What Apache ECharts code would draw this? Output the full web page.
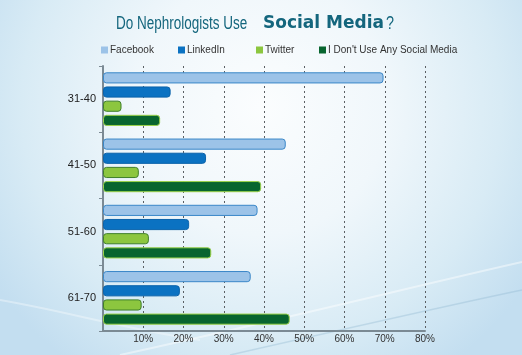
<!DOCTYPE html>
<html>
<head>
<meta charset="utf-8">
<script src="https://cdn.jsdelivr.net/npm/echarts@6/dist/echarts.min.js"></script>
<style>
html,body{margin:0;padding:0;}
#c{width:522px;height:355px;}
</style>
</head>
<body>
<div id="c"></div>
<script>
var categories = ['31-40', '41-50', '51-60', '61-70'];
var seriesNames = ['Facebook', 'LinkedIn', 'Twitter', "I Don't Use Any Social Media"];
var facebook = [69.7, 45.4, 38.4, 36.7];
var linkedin = [16.8, 25.6, 21.4, 19.1];
var twitter = [4.6, 8.9, 11.4, 9.6];
var noSocial = [14.2, 39.3, 26.9, 46.4];

var fills = ['#9cc3e8', '#0b72c2', '#8cc63f', '#08652f'];
var borders = ['#3a87c8', '#0a62aa', '#3f7f2a', '#9bd24a'];
var legendColors = ['#9cc3e8', '#0b72c2', '#8cc63f', '#08652f'];
var values = [facebook, linkedin, twitter, noSocial];
var SANS = '"Liberation Sans", Arial, sans-serif';
var TITLE_COLOR = '#14667d';

var chart = echarts.init(document.getElementById('c'), null, {renderer: 'canvas'});

var legendLefts = [96, 173, 251, 314];
var legends = seriesNames.map(function (n, i) {
  return {
    data: [{name: n, itemStyle: {color: legendColors[i], borderWidth: 0}}],
    left: legendLefts[i], top: 40,
    itemWidth: 7, itemHeight: 7, itemGap: 0,
    icon: 'rect',
    textStyle: {fontFamily: SANS, fontSize: 10, color: '#333', padding: [0, 0, 0, -3]},
    selectedMode: false
  };
});

var series = seriesNames.map(function (n, i) {
  return {
    name: n, type: 'bar', data: values[i],
    barCategoryGap: '19%', barGap: '27%',
    itemStyle: {color: fills[i], borderColor: borders[i], borderWidth: 1, borderRadius: 3},
    legendHoverLink: false
  };
});

chart.setOption({
  animation: false,
  backgroundColor: {
    type: 'radial', x: 0.5, y: 0.3, r: 0.9,
    colorStops: [
      {offset: 0, color: '#fbfdfe'},
      {offset: 0.4, color: '#f0f7fb'},
      {offset: 0.75, color: '#d8ebf5'},
      {offset: 1, color: '#c3def0'}
    ]
  },
  graphic: [
    {
      type: 'text', x: 116, y: 15, scaleX: 0.75,
      style: {text: 'Do Nephrologists Use', font: '18px ' + SANS, fill: TITLE_COLOR}
    },
    {
      type: 'text', x: 263, y: 15,
      style: {text: 'Social Media', font: 'bold 17px "DejaVu Sans", "Liberation Sans"', fill: TITLE_COLOR}
    },
    {
      type: 'text', x: 386, y: 15, scaleX: 0.8,
      style: {text: '?', font: '18px ' + SANS, fill: TITLE_COLOR}
    },
    {
      type: 'bezierCurve', silent: true, z: -1,
      shape: {x1: 120, y1: 355, x2: 522, y2: 262, cpx1: 280, cpy1: 320, cpx2: 420, cpy2: 285},
      style: {stroke: 'rgba(255,255,255,0.45)', lineWidth: 2, fill: null}
    },
    {
      type: 'bezierCurve', silent: true, z: -1,
      shape: {x1: 230, y1: 355, x2: 522, y2: 290, cpx1: 340, cpy1: 330, cpx2: 450, cpy2: 305},
      style: {stroke: 'rgba(140,180,205,0.35)', lineWidth: 1.5, fill: null}
    },
    {
      type: 'bezierCurve', silent: true, z: -1,
      shape: {x1: 0, y1: 300, x2: 200, y2: 340, cpx1: 60, cpy1: 310, cpx2: 130, cpy2: 330},
      style: {stroke: 'rgba(255,255,255,0.35)', lineWidth: 2, fill: null}
    }
  ],
  legend: legends,
  grid: {left: 103, right: 97, top: 66, bottom: 24, containLabel: false},
  xAxis: {
    type: 'value', min: 0, max: 80, interval: 10,
    axisLine: {show: true, lineStyle: {color: '#7b8a94', width: 2}},
    axisTick: {show: false},
    axisLabel: {
      fontFamily: SANS, fontSize: 10, color: '#333', margin: 3,
      formatter: function (v) { return v === 0 ? '' : v + '%'; }
    },
    splitLine: {show: true, lineStyle: {color: '#5a5f63', type: [2, 3], width: 1}}
  },
  yAxis: {
    type: 'category', data: categories, inverse: true,
    axisLine: {show: true, lineStyle: {color: '#7b8a94', width: 2}},
    axisTick: {show: true, length: 4, lineStyle: {color: '#7b8a94'}},
    axisLabel: {fontFamily: SANS, fontSize: 11, color: '#222', margin: 7},
    splitLine: {show: false}
  },
  series: series
});
</script>
</body>
</html>
